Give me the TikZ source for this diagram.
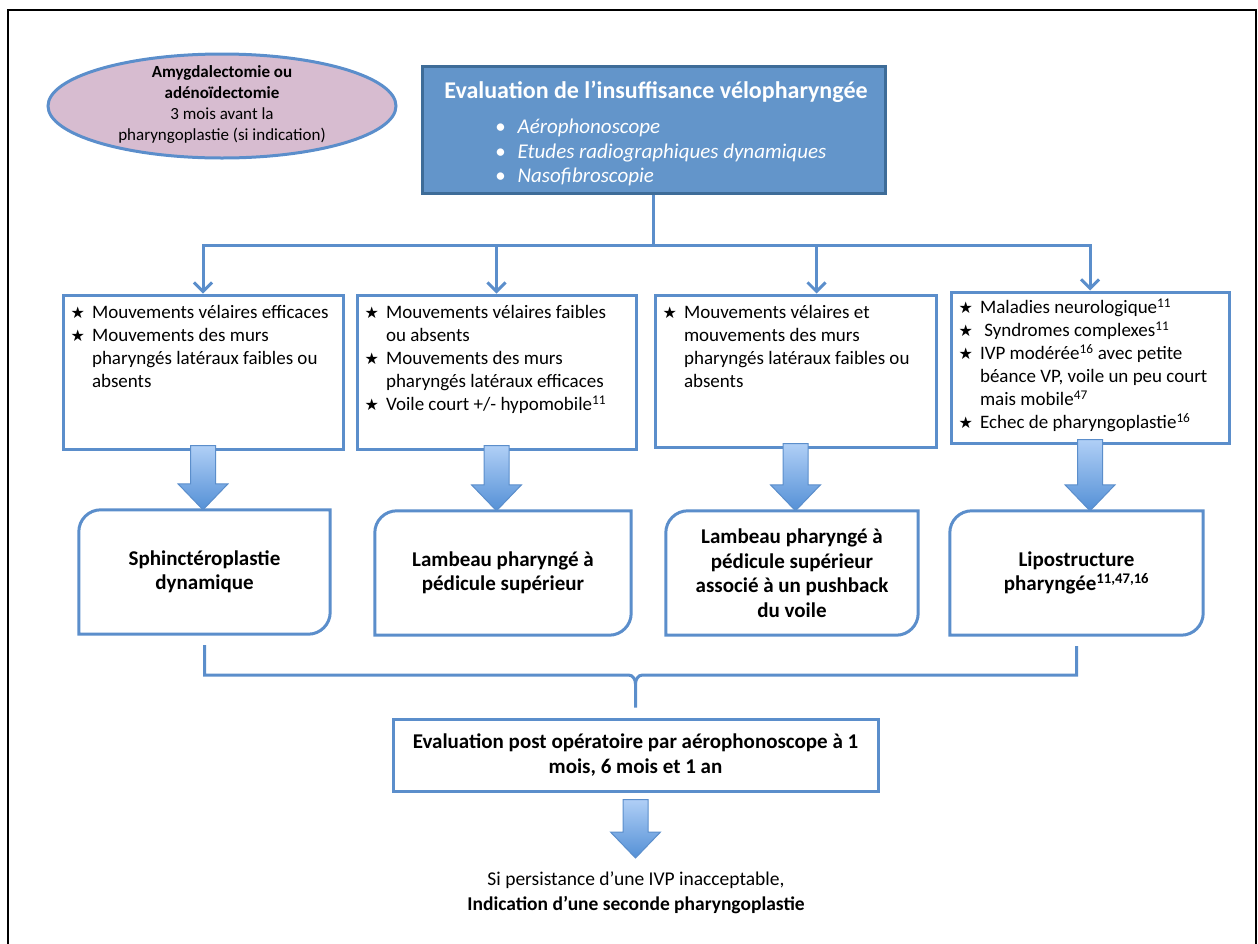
\documentclass[tikz,border=0pt]{standalone}
\usepackage{fontspec}
\setmainfont{Carlito}
\newfontfamily\symfont{DejaVu Sans}
\usetikzlibrary{arrows.meta, positioning, calc, shapes.geometric}

\definecolor{linkblue}{RGB}{91,142,203}
\definecolor{topfill}{RGB}{99,149,202}
\definecolor{topdraw}{RGB}{62,108,152}
\definecolor{ovalfill}{RGB}{215,188,208}
\definecolor{arrtop}{RGB}{176,207,246}
\definecolor{arrbot}{RGB}{84,144,214}

\newcommand{\st}{{\symfont\fontsize{16}{16}\selectfont ★}}
% block arrow from the south of #2 to the north of #3
\newcommand{\bigarrow}[3][5pt]{%
  \draw[bigarr] let \p1=(#2.south), \p2=(#3.north) in
    (\x1-12.5pt,\y1+#1) -- (\x1+12.5pt,\y1+#1) -- (\x1+12.5pt,\y2+26pt)
    -- (\x1+25pt,\y2+26pt) -- (\x1,\y2) -- (\x1-25pt,\y2+26pt)
    -- (\x1-12.5pt,\y2+26pt) -- cycle;}
% frame with two rounded corners
\newcommand{\opframe}[1]{%
  \draw[opline] ([xshift=22pt]#1.north west) -- (#1.north east)
    -- ([yshift=22pt]#1.south east) arc[start angle=0, end angle=-90, radius=22pt]
    -- (#1.south west) -- ([yshift=-22pt]#1.north west)
    arc[start angle=180, end angle=90, radius=22pt] -- cycle;}

\begin{document}
\begin{tikzpicture}[x=1pt, y=-1pt,
  every node/.style={inner sep=0pt},
  frame/.style={draw=black, line width=1.5pt},
  critbox/.style={draw=linkblue, line width=3pt, fill=white},
  critlist/.style={anchor=north west, font=\fontsize{19}{23}\selectfont, align=left},
  opbox/.style={minimum height=124pt, align=center,
                font=\bfseries\fontsize{21}{24.5}\selectfont},
  opline/.style={draw=linkblue, line width=3pt},
  link/.style={draw=linkblue, line width=3pt},
  linkarr/.style={link, -{Straight Barb[length=9pt, width=18pt]}},
  bigarr/.style={draw=linkblue, line width=1pt, top color=arrtop, bottom color=arrbot}
]
  \useasboundingbox (0,0) rectangle (1258,943);
  \draw[frame] (8,10) rectangle (1256,952);

  % top
  \node[ellipse, draw=linkblue, fill=ovalfill, line width=3pt,
        minimum width=348pt, minimum height=104pt] (pre) at (222,106) {};
  \node[font=\fontsize{17}{21}\selectfont, align=center] (pretxt) at (222,104)
    {\textbf{Amygdalectomie ou}\\\textbf{adénoïdectomie}\\3 mois avant la\\pharyngoplastie (si indication)};

  \node[draw=topdraw, fill=topfill, line width=3pt,
        minimum width=463pt, minimum height=127pt] (evip) at (653.5,129.5) {};
  \node[text=white, font=\bfseries\fontsize{24}{28}\selectfont] (evtitle) at (656,92)
    {Evaluation de l’insuffisance vélopharyngée};
  \node[anchor=north west, text=white, align=left,
        font=\itshape\fontsize{21}{24.5}\selectfont] (evlist) at (495,119)
    {•\hspace{12pt}Aérophonoscope\\•\hspace{12pt}Etudes radiographiques dynamiques\\•\hspace{12pt}Nasofibroscopie};

  % criteria
  \node[critbox, minimum width=280pt, minimum height=154pt] (b1) at (203,372) {};
  \node[critbox, minimum width=279pt, minimum height=154pt] (b2) at (496.5,372) {};
  \node[critbox, minimum width=281pt, minimum height=152pt] (b3) at (795.5,371) {};
  \node[critbox, minimum width=278pt, minimum height=151pt] (b4) at (1090,367.5) {};

  \node[critlist] (c1) at ([xshift=9pt,yshift=-9pt]b1.north west)
    {\begin{tabular}{@{}l@{\hspace{7pt}}l@{}}
      \st & Mouvements vélaires efficaces\\
      \st & Mouvements des murs\\
          & pharyngés latéraux faibles ou\\
          & absents
    \end{tabular}};
  \node[critlist] (c2) at ([xshift=9pt,yshift=-9pt]b2.north west)
    {\begin{tabular}{@{}l@{\hspace{7pt}}l@{}}
      \st & Mouvements vélaires faibles\\
          & ou absents\\
      \st & Mouvements des murs\\
          & pharyngés latéraux efficaces\\
      \st & Voile court +/- hypomobile\textsuperscript{11}
    \end{tabular}};
  \node[critlist] (c3) at ([xshift=9pt,yshift=-9pt]b3.north west)
    {\begin{tabular}{@{}l@{\hspace{7pt}}l@{}}
      \st & Mouvements vélaires et\\
          & mouvements des murs\\
          & pharyngés latéraux faibles ou\\
          & absents
    \end{tabular}};
  \node[critlist] (c4) at ([xshift=9pt,yshift=-7pt]b4.north west)
    {\begin{tabular}{@{}l@{\hspace{7pt}}l@{}}
      \st & Maladies neurologique\textsuperscript{11}\\
      \st & \ Syndromes complexes\textsuperscript{11}\\
      \st & IVP modérée\textsuperscript{16} avec petite\\
          & béance VP, voile un peu court\\
          & mais mobile\textsuperscript{47}\\
      \st & Echec de pharyngoplastie\textsuperscript{16}
    \end{tabular}};

  \coordinate (hub) at (evip.south |- 0,245);
  \draw[link] (evip.south) -- (hub);
  \draw[linkarr] (hub) -| (b1.north);
  \draw[linkarr] (hub) -| (b2.north);
  \draw[linkarr] (hub) -| ([xshift=21pt]b3.north);
  \draw[linkarr] (hub) -| (b4.north);

  % operations
  \node[opbox, minimum width=251pt] (r1) at (204.5,572) {Sphinctéroplastie\\dynamique};
  \node[opbox, minimum width=256pt] (r2) at (503,573) {Lambeau pharyngé à\\pédicule supérieur};
  \node[opbox, minimum width=252pt] (r3) at (792,573)
    {Lambeau pharyngé à\\pédicule supérieur\\associé à un pushback\\du voile};
  \node[opbox, minimum width=253pt] (r4) at (1076.5,573)
    {Lipostructure\\pharyngée\textsuperscript{11,47,16}};
  \opframe{r1} \opframe{r2} \opframe{r3} \opframe{r4}

  \bigarrow{b1}{r1}
  \bigarrow{b2}{r2}
  \bigarrow{b3}{r3}
  \bigarrow{b4}{r4}

  % follow-up
  \node[draw=linkblue, line width=3pt, minimum width=485pt, minimum height=72pt,
        align=center, font=\bfseries\fontsize{21}{25}\selectfont] (post) at (635.5,755)
    {Evaluation post opératoire par aérophonoscope à 1\\mois, 6 mois et 1 an};

  \coordinate (bl) at ([yshift=-11pt]r1.south);
  \coordinate (br) at ([yshift=-11pt]r4.south);
  \coordinate (bm) at (post.north |- 0,675);
  \coordinate (btip) at ([yshift=10pt]post.north);
  \draw[link] (bl) |- ([xshift=-7pt]bm) to[out=0, in=90] ([yshift=-9pt]bm) -- (btip);
  \draw[link] (br) |- ([xshift=7pt]bm) to[out=180, in=90] ([yshift=-9pt]bm);

  \node[anchor=north, inner ysep=14pt, align=center, font=\fontsize{19.5}{24.5}\selectfont]
    (redo) at (636,858)
    {Si persistance d’une IVP inacceptable,\\\textbf{Indication d’une seconde pharyngoplastie}};
  \bigarrow[-7pt]{post}{redo}
\end{tikzpicture}
\end{document}
